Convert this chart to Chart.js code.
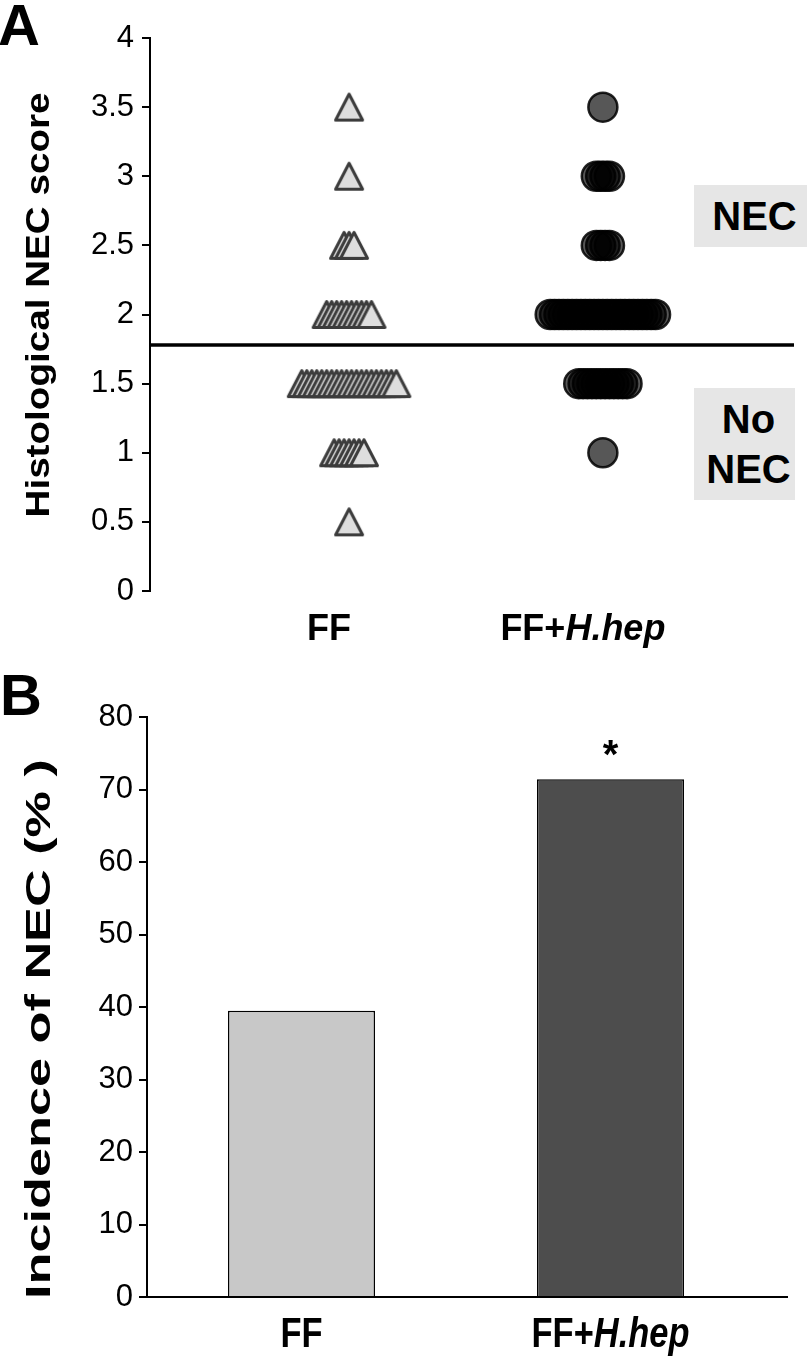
<!DOCTYPE html>
<html>
<head>
<meta charset="utf-8">
<script src="https://cdn.jsdelivr.net/npm/chart.js@4.4.1/dist/chart.umd.min.js"></script>
<style>
  body { margin: 0; background: #fff; width: 811px; height: 1359px; position: relative; overflow: hidden; font-family: "Liberation Sans", Arial, sans-serif; }
  canvas { position: absolute; left: 0; }
  .letter { position: absolute; font-weight: bold; font-size: 58px; line-height: 1; }
  .box { position: absolute; background: #e6e6e6; font-weight: bold; font-size: 40px; text-align: center; }
</style>
</head>
<body>
<div class="letter" style="left:-2px; top:-4px;">A</div>
<div class="letter" style="left:0px; top:666px;">B</div>
<canvas id="chartA" width="811" height="660" style="top:0"></canvas>
<canvas id="chartB" width="811" height="699" style="top:660px"></canvas>
<div class="box" style="left:694px; top:185px; width:113px; height:62px; line-height:62px; padding-left:8px; box-sizing:border-box;">NEC</div>
<div class="box" style="left:694px; top:388px; width:101px; height:112px; line-height:50px; padding-top:6px; padding-left:8px; box-sizing:border-box;">No<br>NEC</div>
<script>
// panel A: histological scores, number of pups at each score level
const groups = ['FF', 'FF+H.hep'];
const scoreLevels = [3.5, 3, 2.5, 2, 1.5, 1, 0.5];
const ffCounts = [1, 1, 3, 10, 20, 7, 1];
const hhepCounts = [1, 4, 4, 25, 12, 1, 0];
const necCutoff = 1.78;

// panel B: incidence of NEC (%)
const incidence = [39.5, 71.4];
const significance = ['', '*'];

const groupX = [1, 2];

function spread(counts, x0, step) {
  const pts = [];
  counts.forEach((n, k) => {
    for (let i = 0; i < n; i++) {
      pts.push({ x: x0 + (i - (n - 1) / 2) * step, y: scoreLevels[k] });
    }
  });
  return pts;
}

function makeTriangle() {
  const c = document.createElement('canvas');
  c.width = 32; c.height = 31;
  const g = c.getContext('2d');
  g.beginPath();
  g.moveTo(16, 2.5); g.lineTo(29.5, 28.5); g.lineTo(2.5, 28.5); g.closePath();
  g.fillStyle = '#dedede'; g.fill();
  g.lineWidth = 3; g.lineJoin = 'round'; g.strokeStyle = '#3c3c3c'; g.stroke();
  return c;
}

function drawLabel(ctx, label, cx, cy, size, sx) {
  const idx = label.indexOf('H.hep');
  const parts = idx > 0 ? [[label.slice(0, idx), ''], [label.slice(idx), 'italic ']] : [[label, '']];
  let total = 0;
  parts.forEach(p => { ctx.font = p[1] + 'bold ' + size + 'px "Liberation Sans", Arial, sans-serif'; p.w = ctx.measureText(p[0]).width; total += p.w; });
  ctx.save();
  ctx.translate(cx, cy);
  ctx.scale(sx, 1);
  let x = -total / 2;
  ctx.fillStyle = '#000';
  ctx.textBaseline = 'middle';
  ctx.textAlign = 'left';
  parts.forEach(p => { ctx.font = p[1] + 'bold ' + size + 'px "Liberation Sans", Arial, sans-serif'; ctx.fillText(p[0], x, 0); x += p.w; });
  ctx.restore();
}

function drawTitle(ctx, text, cx, cy, size, length) {
  ctx.save();
  ctx.font = 'bold ' + size + 'px "Liberation Sans", Arial, sans-serif';
  const w = ctx.measureText(text).width;
  ctx.translate(cx, cy);
  ctx.rotate(-Math.PI / 2);
  ctx.scale(length / w, 1);
  ctx.fillStyle = '#000';
  ctx.textAlign = 'center';
  ctx.textBaseline = 'middle';
  ctx.fillText(text, 0, 0);
  ctx.restore();
}

const labelsA = {
  id: 'labelsA',
  afterDraw(chart) {
    const ctx = chart.ctx;
    groups.forEach((g, i) => drawLabel(ctx, g, chart.scales.x.getPixelForValue(groupX[i]) - 20, 630, 36, 1));
    drawTitle(ctx, 'Histological NEC score', 40, 305, 33, 425);
  }
};

new Chart(document.getElementById('chartA'), {
  type: 'scatter',
  data: {
    datasets: [
      {
        type: 'line',
        data: [{ x: 0.2157, y: necCutoff }, { x: 2.753, y: necCutoff }],
        borderColor: '#000', borderWidth: 3.5, pointRadius: 0
      },
      {
        label: groups[0],
        data: spread(ffCounts, groupX[0], 0.0196),
        pointStyle: makeTriangle()
      },
      {
        label: groups[1],
        data: spread(hhepCounts, groupX[1], 0.0173),
        pointStyle: 'circle', pointRadius: 14.5, borderWidth: 2.5,
        borderColor: 'rgba(0,0,0,0.85)', backgroundColor: 'rgba(0,0,0,0.66)'
      }
    ]
  },
  options: {
    responsive: false,
    animation: false,
    layout: { padding: { top: 38, right: 14, bottom: 69, left: 0 } },
    plugins: { legend: { display: false }, tooltip: { enabled: false } },
    scales: {
      x: { type: 'linear', min: 0.2157, max: 2.753, display: false },
      y: {
        min: 0, max: 4,
        ticks: {
          stepSize: 0.5, color: '#000', padding: 8,
          font: { family: '"Liberation Sans", Arial, sans-serif', size: 31 },
          callback: v => String(+v.toFixed(1))
        },
        grid: { drawOnChartArea: false, tickLength: 8, color: '#000', lineWidth: 2 },
        border: { color: '#000', width: 2 },
        afterFit(scale) { scale.width = 150; }
      }
    }
  },
  plugins: [labelsA]
});

const labelsB = {
  id: 'labelsB',
  afterDraw(chart) {
    const ctx = chart.ctx;
    const area = chart.chartArea;
    ctx.save();
    ctx.strokeStyle = '#000'; ctx.lineWidth = 2;
    ctx.beginPath(); ctx.moveTo(area.right, area.bottom); ctx.lineTo(788, area.bottom); ctx.stroke();
    ctx.restore();
    const meta = chart.getDatasetMeta(0);
    groups.forEach((g, i) => {
      drawLabel(ctx, g, meta.data[i].x, 675, 42, 0.82);
      if (significance[i]) {
        ctx.font = 'bold 40px "Liberation Sans", Arial, sans-serif';
        ctx.textAlign = 'center';
        ctx.textBaseline = 'middle';
        ctx.fillStyle = '#000';
        ctx.fillText(significance[i], meta.data[i].x, meta.data[i].y - 22);
      }
    });
    drawTitle(ctx, 'Incidence of NEC (% )', 40, 369, 35, 540);
  }
};

new Chart(document.getElementById('chartB'), {
  type: 'bar',
  data: {
    labels: groups,
    datasets: [{
      data: incidence,
      backgroundColor: ['#c8c8c8', '#4d4d4d'],
      borderColor: '#000', borderWidth: 1.5,
      categoryPercentage: 1, barPercentage: 0.476
    }]
  },
  options: {
    responsive: false,
    animation: false,
    layout: { padding: { top: 57, right: 46, bottom: 62, left: 0 } },
    plugins: { legend: { display: false }, tooltip: { enabled: false } },
    scales: {
      x: {
        ticks: { display: false },
        grid: { display: false },
        border: { color: '#000', width: 2 },
        afterFit(scale) { scale.height = 0; }
      },
      y: {
        min: 0, max: 80,
        ticks: { stepSize: 10, color: '#000', padding: 6, font: { family: '"Liberation Sans Narrow", "Liberation Sans", sans-serif', size: 31 } },
        grid: { drawOnChartArea: false, tickLength: 8, color: '#000', lineWidth: 2 },
        border: { color: '#000', width: 2 },
        afterFit(scale) { scale.width = 147; }
      }
    }
  },
  plugins: [labelsB]
});
</script>
</body>
</html>
